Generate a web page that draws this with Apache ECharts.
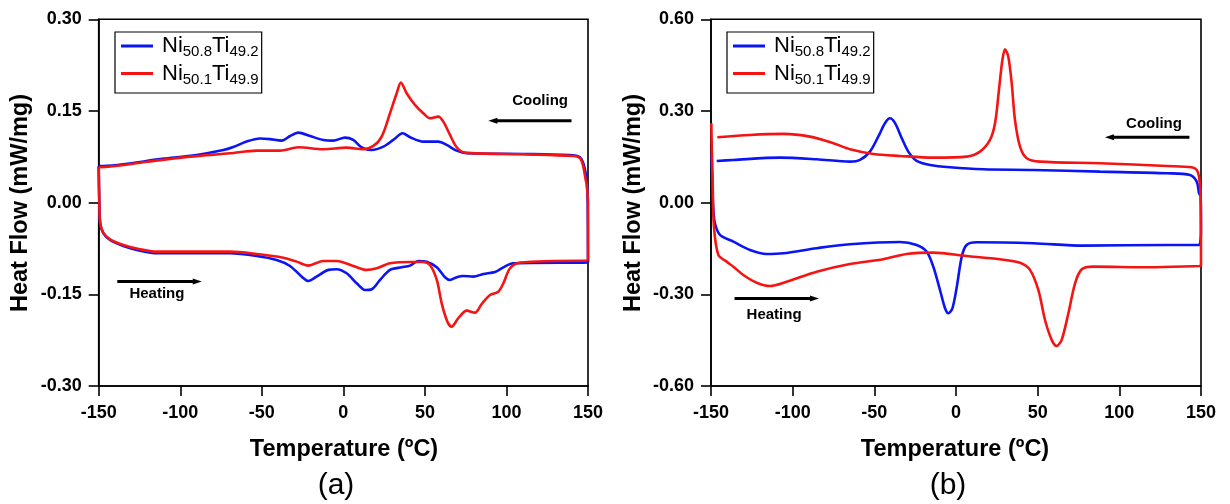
<!DOCTYPE html>
<html><head><meta charset="utf-8">
<script src="https://cdn.jsdelivr.net/npm/echarts@6/dist/echarts.min.js"></script>
<style>html,body{margin:0;padding:0;background:#fff}#c{width:1230px;height:504px}</style>
</head><body><div id="c"></div>
<script>
// ---- names / ticks ----
const seriesNames = ['Ni50.8Ti49.2', 'Ni50.1Ti49.9'];
const xTicks = [-150, -100, -50, 0, 50, 100, 150];
const yTicksA = [-0.30, -0.15, 0.00, 0.15, 0.30];
const yTicksB = [-0.60, -0.30, 0.00, 0.30, 0.60];

// ---- panel (a) Ni50.8Ti49.2 (blue) ----
const aBlueCoolT  = [150, 149.8, 149.2, 148.6, 147.1, 145.1, 141, 110.3, 75.6, 69.5, 63.4, 58.2, 49.0, 40.9, 36.4, 30.6, 24.5, 17.4, 11.2, 6.1, 1.0, -6.2, -12.3, -20.4, -27.6, -32.7, -37.8, -45.0, -51.1, -59.3, -67.5, -73.6, -90, -110, -149.2, -150];
const aBlueCoolHF = [-0.098, 0.0, 0.037, 0.048, 0.0645, 0.0743, 0.0775, 0.0797, 0.0808, 0.0851, 0.0944, 0.0998, 0.0998, 0.107, 0.1135, 0.1026, 0.0917, 0.0862, 0.0906, 0.1026, 0.1064, 0.1015, 0.1026, 0.109, 0.1146, 0.109, 0.1015, 0.104, 0.105, 0.100, 0.091, 0.086, 0.078, 0.072, 0.060, 0.060];
const aBlueHeatT  = [-150, -149.6, -149.1, -147.2, -143.1, -134.9, -124.7, -114.4, -94.0, -69.5, -53.1, -40.9, -32.7, -25.5, -21.5, -16.4, -9.2, -4.1, 2.0, 8.2, 13.3, 17.4, 22.5, 28.6, 35.8, 40.9, 46.0, 51.1, 57.3, 62.3, 65.4, 69.5, 73.5, 79.7, 85.8, 93.0, 98.1, 104.2, 147.1, 150];
const aBlueHeatHF = [0.060, 0.0, -0.033, -0.050, -0.061, -0.0709, -0.0785, -0.0829, -0.0829, -0.0829, -0.0872, -0.0938, -0.1036, -0.1211, -0.1281, -0.1211, -0.110, -0.109, -0.1156, -0.132, -0.143, -0.1417, -0.1265, -0.110, -0.1058, -0.103, -0.0954, -0.0965, -0.1058, -0.122, -0.1265, -0.122, -0.120, -0.1211, -0.1167, -0.1134, -0.1058, -0.0992, -0.0982, -0.098];
// ---- panel (a) Ni50.1Ti49.9 (red) ----
const aRedCoolT  = [150, 150, 149.2, 148.6, 147.1, 145.1, 141, 110.3, 74.6, 69.5, 65.4, 61.3, 58.2, 53.1, 49.0, 43.9, 38.8, 35.3, 32.7, 28.6, 23.5, 18.4, 12.2, 2.0, -12.3, -27.6, -38.8, -53.1, -69.5, -94.0, -120, -149.2, -150];
const aRedCoolHF = [-0.095, 0.0, 0.03, 0.037, 0.059, 0.0727, 0.0764, 0.0792, 0.0818, 0.0906, 0.1108, 0.1326, 0.1408, 0.138, 0.1463, 0.160, 0.179, 0.1964, 0.179, 0.1463, 0.108, 0.0928, 0.0874, 0.090, 0.0874, 0.0906, 0.0851, 0.0851, 0.0808, 0.0753, 0.067, 0.058, 0.058];
const aRedHeatT  = [-150, -149.6, -149.1, -147.2, -143.1, -134.9, -124.7, -114.4, -69.5, -53.1, -36.8, -28.6, -21.5, -12.3, -4.1, 6.1, 14.3, 20.4, 28.6, 40.9, 49.0, 53.1, 57.3, 60.3, 63.8, 66.4, 70.5, 75.6, 80.7, 84.8, 89.9, 95.0, 98.1, 102.2, 108.3, 147.1, 149.6, 150];
const aRedHeatHF = [0.058, 0.0, -0.033, -0.049, -0.060, -0.0692, -0.0763, -0.0802, -0.0802, -0.084, -0.090, -0.0965, -0.103, -0.0954, -0.0954, -0.1036, -0.110, -0.1074, -0.0992, -0.097, -0.097, -0.102, -0.1265, -0.1647, -0.1947, -0.203, -0.189, -0.1767, -0.180, -0.1658, -0.151, -0.1457, -0.132, -0.1074, -0.0982, -0.095, -0.095, -0.095];

// ---- panel (b) Ni50.8Ti49.2 (blue) ----
const bBlueCoolT  = [150, 149.8, 148.8, 147.4, 143.3, 129.0, 88.2, 47.3, 16.7, -3.7, -15.9, -24.1, -29.2, -33.2, -37.3, -40.4, -43.5, -47.6, -52.7, -58.8, -64.9, -85.3, -107.8, -136.3, -146.5];
const bBlueCoolHF = [-0.09, 0.02, 0.031, 0.0687, 0.0907, 0.0962, 0.1015, 0.107, 0.1093, 0.1159, 0.1234, 0.1365, 0.167, 0.2108, 0.260, 0.276, 0.260, 0.216, 0.167, 0.1398, 0.1342, 0.142, 0.1473, 0.1398, 0.1365];
const bBlueHeatT  = [-149.6, -149.2, -148.6, -147.6, -144.5, -136.3, -126.1, -115.9, -105.7, -85.3, -64.9, -34.3, -24.1, -18.0, -13.9, -9.8, -6.7, -4.7, -2.2, 0.5, 3.5, 6.5, 12.7, 47.3, 77.9, 129.0, 148.8, 150];
const bBlueHeatHF = [0.16, 0.06, -0.02, -0.0675, -0.1057, -0.1277, -0.1548, -0.168, -0.1657, -0.149, -0.136, -0.1286, -0.1385, -0.160, -0.2095, -0.2858, -0.3457, -0.362, -0.3457, -0.275, -0.1768, -0.1385, -0.1297, -0.133, -0.1407, -0.1385, -0.1385, -0.09];
// ---- panel (b) Ni50.1Ti49.9 (red) ----
const bRedCoolT  = [150, 149.8, 148.8, 147.4, 144.3, 129.0, 88.2, 51.4, 43.3, 39.2, 36.1, 34.1, 32.0, 30.0, 28.4, 26.3, 23.9, 20.8, 14.7, 6.5, -13.9, -34.3, -50.6, -64.9, -75.1, -89.4, -105.7, -126.1, -146.1];
const bRedCoolHF = [-0.207, 0.02, 0.085, 0.107, 0.1159, 0.120, 0.129, 0.1342, 0.1453, 0.1833, 0.2707, 0.391, 0.478, 0.502, 0.467, 0.369, 0.260, 0.2052, 0.167, 0.1506, 0.1473, 0.1529, 0.1594, 0.1748, 0.1944, 0.216, 0.2249, 0.2216, 0.214];
const bRedHeatT  = [-149.8, -149.4, -149.0, -148.2, -145.5, -140.4, -136.3, -130.2, -122.0, -113.9, -103.7, -85.3, -64.9, -44.5, -30.2, -13.9, 6.5, 26.9, 39.2, 45.3, 50.4, 54.5, 58.6, 61.6, 64.7, 68.8, 72.9, 77.0, 84.1, 118.8, 148.8, 150];
const bRedHeatHF = [0.26, 0.15, 0.0743, -0.0785, -0.171, -0.193, -0.2095, -0.2366, -0.2619, -0.2727, -0.2586, -0.2259, -0.2007, -0.1853, -0.168, -0.1637, -0.1745, -0.1853, -0.1964, -0.220, -0.2858, -0.384, -0.449, -0.469, -0.449, -0.362, -0.2638, -0.218, -0.2095, -0.2115, -0.2072, -0.207];

// ---- annotations (data coords) ----
const annotations = [
  {grid: 0, text: 'Cooling', at: [120.6, 0.166], arrowFrom: [139.9, 0.134], arrowTo: [88.9, 0.134]},
  {grid: 0, text: 'Heating', at: [-114.3, -0.149], arrowFrom: [-138.6, -0.129], arrowTo: [-86.8, -0.129]},
  {grid: 1, text: 'Cooling', at: [121.2, 0.258], arrowFrom: [142.9, 0.214], arrowTo: [91.2, 0.214]},
  {grid: 1, text: 'Heating', at: [-111.4, -0.368], arrowFrom: [-135.6, -0.314], arrowTo: [-83.9, -0.314]}
];

const FONT = 'Liberation Sans, Arial, Helvetica, sans-serif';
const BLUE = '#0a14f5';
const RED = '#f51414';
const zip = (t, h) => t.map((v, i) => [v, h[i]]);

function mkSeries(name, idx, t, h, color) {
  return {
    type: 'line', name: name, xAxisIndex: idx, yAxisIndex: idx,
    data: zip(t, h), showSymbol: false, symbol: 'none', smooth: 0.3,
    lineStyle: {color: color, width: 2.6}, itemStyle: {color: color},
    animation: false, z: color === RED ? 3 : 2
  };
}

function mkXAxis(idx) {
  return {
    type: 'value', gridIndex: idx, min: xTicks[0], max: xTicks[xTicks.length - 1],
    interval: xTicks[1] - xTicks[0],
    axisLine: {show: true, onZero: false, lineStyle: {color: '#000', width: 1.6}},
    axisTick: {show: true, inside: false, length: 10, lineStyle: {color: '#000', width: 1.6}},
    axisLabel: {margin: 18, color: '#000', fontSize: 18, fontWeight: 'bold', fontFamily: FONT},
    splitLine: {show: false}
  };
}
function mkYAxis(idx, ticks) {
  return {
    type: 'value', gridIndex: idx, min: ticks[0], max: ticks[ticks.length - 1],
    interval: ticks[1] - ticks[0],
    axisLine: {show: true, onZero: false, lineStyle: {color: '#000', width: 1.6}},
    axisTick: {show: true, inside: false, length: 10, lineStyle: {color: '#000', width: 1.6}},
    axisLabel: {margin: 17, color: '#000', fontSize: 18, fontWeight: 'bold', fontFamily: FONT,
      formatter: v => (Math.abs(v) < 1e-9 ? 0 : v).toFixed(2)},
    splitLine: {show: false}
  };
}
function mkLegend(left) {
  return {
    orient: 'vertical', left: left, top: 32,
    data: [{name: seriesNames[0], itemStyle: {color: BLUE}}, {name: seriesNames[1], itemStyle: {color: RED}}],
    icon: 'rect', itemWidth: 32, itemHeight: 3, itemGap: 3, padding: [3, 3, 6, 6],
    borderColor: '#000', borderWidth: 1.2, backgroundColor: '#fff',
    selectedMode: false,
    formatter: name => {
      const m = name.match(/^Ni([\d.]+)Ti([\d.]+)$/);
      return '{a|Ni}{s|' + m[1] + '}{n|Ti}{s|' + m[2] + '}';
    },
    textStyle: {
      rich: {
        a: {fontSize: 22, fontFamily: FONT, color: '#000', padding: [0, 0, 0, 4]},
        n: {fontSize: 22, fontFamily: FONT, color: '#000'},
        s: {fontSize: 15, fontFamily: FONT, color: '#000', padding: [12, 0, 0, 0]}
      }
    }
  };
}

const chart = echarts.init(document.getElementById('c'), null, {renderer: 'canvas'});
chart.setOption({
  backgroundColor: '#fff',
  animation: false,
  grid: [
    {left: 98.7, top: 19.3, width: 489.3, height: 366.7, show: true, borderColor: '#000', borderWidth: 1.6, backgroundColor: 'transparent'},
    {left: 711, top: 19.3, width: 490, height: 366.7, show: true, borderColor: '#000', borderWidth: 1.6, backgroundColor: 'transparent'}
  ],
  xAxis: [mkXAxis(0), mkXAxis(1)],
  yAxis: [mkYAxis(0, yTicksA), mkYAxis(1, yTicksB)],
  legend: [mkLegend(115), mkLegend(727)],
  series: [
    mkSeries(seriesNames[0], 0, aBlueCoolT, aBlueCoolHF, BLUE),
    mkSeries(seriesNames[0], 0, aBlueHeatT, aBlueHeatHF, BLUE),
    mkSeries(seriesNames[1], 0, aRedCoolT, aRedCoolHF, RED),
    mkSeries(seriesNames[1], 0, aRedHeatT, aRedHeatHF, RED),
    mkSeries(seriesNames[0], 1, bBlueCoolT, bBlueCoolHF, BLUE),
    mkSeries(seriesNames[0], 1, bBlueHeatT, bBlueHeatHF, BLUE),
    mkSeries(seriesNames[1], 1, bRedCoolT, bRedCoolHF, RED),
    mkSeries(seriesNames[1], 1, bRedHeatT, bRedHeatHF, RED)
  ]
});

// titles and annotations
const g = [];
function txt(x, y, s, size, weight, rot) {
  g.push({type: 'text', x: x, y: y, rotation: rot || 0, z: 100,
    style: {text: s, fill: '#000', font: weight + ' ' + size + 'px ' + FONT, textAlign: 'center', textVerticalAlign: 'middle'}});
}
txt(21, 203, 'Heat Flow (mW/mg)', 23.5, 'bold', Math.PI / 2);
txt(634, 203, 'Heat Flow (mW/mg)', 23.5, 'bold', Math.PI / 2);
txt(344, 450, 'Temperature (ºC)', 23.5, 'bold');
txt(955, 450, 'Temperature (ºC)', 23.5, 'bold');
txt(336, 486, '(a)', 30, 'normal');
txt(948, 486, '(b)', 30, 'normal');

annotations.forEach(a => {
  const p = chart.convertToPixel({gridIndex: a.grid}, a.at);
  txt(p[0], p[1], a.text, 15, 'bold');
  const f = chart.convertToPixel({gridIndex: a.grid}, a.arrowFrom);
  const t = chart.convertToPixel({gridIndex: a.grid}, a.arrowTo);
  const dir = Math.sign(t[0] - f[0]);
  g.push({type: 'line', z: 100, shape: {x1: f[0], y1: f[1], x2: t[0] - dir * 6, y2: t[1]}, style: {stroke: '#000', lineWidth: 3}});
  g.push({type: 'polygon', z: 100, shape: {points: [[t[0], t[1]], [t[0] - dir * 9, t[1] - 3], [t[0] - dir * 9, t[1] + 3]]}, style: {fill: '#000'}});
});
chart.setOption({graphic: g});
</script></body></html>
